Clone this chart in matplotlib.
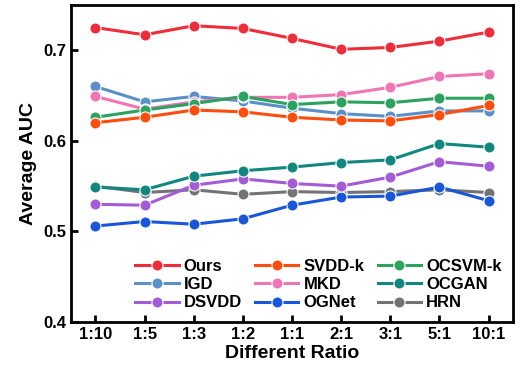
import matplotlib
matplotlib.use("Agg")
import matplotlib.pyplot as plt

plt.rcParams['font.family'] = ['Liberation Sans', 'DejaVu Sans']
plt.rcParams['font.weight'] = 'bold'

ratios = ["1:10", "1:5", "1:3", "1:2", "1:1", "2:1", "3:1", "5:1", "10:1"]

ours = [0.725, 0.717, 0.727, 0.724, 0.713, 0.701, 0.703, 0.710, 0.720]
svdd_k = [0.620, 0.626, 0.634, 0.632, 0.626, 0.623, 0.622, 0.629, 0.639]
ocsvm_k = [0.626, 0.634, 0.641, 0.649, 0.640, 0.643, 0.642, 0.647, 0.647]
igd = [0.660, 0.643, 0.649, 0.644, 0.636, 0.630, 0.627, 0.633, 0.633]
mkd = [0.649, 0.635, 0.643, 0.648, 0.648, 0.651, 0.659, 0.671, 0.674]
ocgan = [0.549, 0.546, 0.561, 0.567, 0.571, 0.576, 0.579, 0.597, 0.593]
dsvdd = [0.530, 0.529, 0.551, 0.558, 0.553, 0.550, 0.560, 0.577, 0.572]
ognet = [0.506, 0.511, 0.508, 0.514, 0.529, 0.538, 0.539, 0.549, 0.534]
hrn = [0.550, 0.543, 0.546, 0.541, 0.544, 0.543, 0.544, 0.546, 0.543]

series = [
    ("Ours", ours, "#EE2D3A"),
    ("SVDD-k", svdd_k, "#FF4D0D"),
    ("OCSVM-k", ocsvm_k, "#2CA25F"),
    ("IGD", igd, "#5B8FC9"),
    ("MKD", mkd, "#F075B5"),
    ("OCGAN", ocgan, "#11877F"),
    ("DSVDD", dsvdd, "#A45BD6"),
    ("OGNet", ognet, "#1A56D9"),
    ("HRN", hrn, "#737373"),
]

# draw order so that upper lines sit on top like the original
draw_order = ["HRN", "OGNet", "DSVDD", "OCGAN", "IGD", "MKD", "OCSVM-k", "SVDD-k", "Ours"]

fig = plt.figure(figsize=(5.21, 3.75), dpi=100)
ax = fig.add_axes([0.136, 0.141, 0.849, 0.846])

x = list(range(len(ratios)))
handles = {}
for name, vals, col in series:
    z = 3 + draw_order.index(name)
    h, = ax.plot(x, vals, color=col, lw=2.2, marker='o', ms=8,
                 markeredgecolor='white', markeredgewidth=0.8, label=name, zorder=z)
    handles[name] = h

ax.set_xlim(-0.5, 8.5)
ax.set_ylim(0.4, 0.75)
ax.set_yticks([0.4, 0.5, 0.6, 0.7])
ax.set_xticks(x)
ax.set_xticklabels(ratios)
ax.tick_params(direction='in', width=2, length=5, labelsize=12)
for s in ax.spines.values():
    s.set_linewidth(2)

ax.set_xlabel("Different Ratio", fontsize=14, fontweight='bold', labelpad=2)
ax.set_ylabel("Average AUC", fontsize=14, fontweight='bold')

# legend is filled row by row in the original, matplotlib fills columns
names = [n for n, _, _ in series]
ncol = 3
col_major = [names[r * ncol + c] for c in range(ncol) for r in range(len(names) // ncol)]
ax.legend([handles[n] for n in col_major], col_major,
          ncol=ncol, loc='lower right', frameon=False, fontsize=12,
          handlelength=2.6, handletextpad=0.3, columnspacing=0.8,
          labelspacing=0.2, borderaxespad=0.3)

fig.savefig("out.png", dpi=100)
